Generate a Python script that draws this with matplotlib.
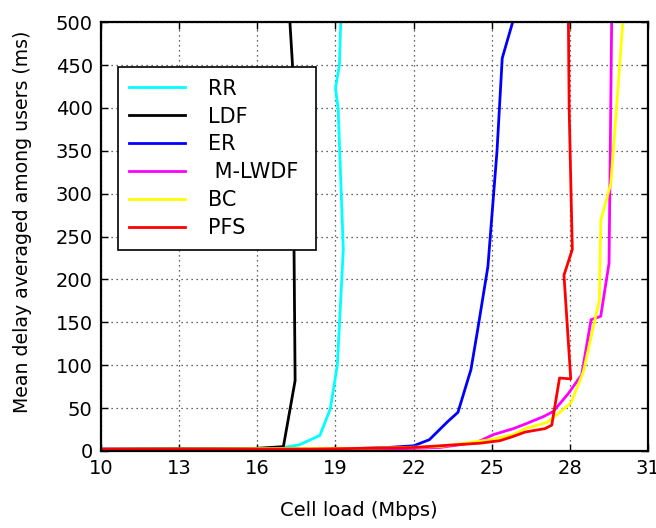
import matplotlib
matplotlib.use("Agg")
import matplotlib.pyplot as plt

plt.rcParams['font.family'] = ['DejaVu Sans']

# Data (Cell load in Mbps, mean delay in ms)
rr_x = [10, 15, 16, 17, 17.6, 18.4, 18.8, 19.07, 19.3, 19.1, 19.0, 19.15, 19.2]
rr_y = [2, 2, 3, 4, 7, 18, 49, 100, 235, 400, 423, 450, 500]

ldf_x = [10, 16, 17.0, 17.45, 17.35, 17.25]
ldf_y = [2, 3, 5, 82, 450, 500]

er_x = [10, 20, 21, 22, 22.6, 23.3, 23.7, 24.2, 24.45, 24.85, 25.2, 25.4, 25.8]
er_y = [2, 3, 4, 6, 13, 34, 45, 95, 140, 215, 350, 458, 500]

mlwdf_x = [10, 18, 21, 23, 24.42, 25.06, 25.83, 26.34, 26.98, 27.36, 27.94, 28.45, 28.81, 29.18, 29.5, 29.6]
mlwdf_y = [2, 1, 2, 4, 10, 19, 26, 32, 40, 46, 67, 89, 153, 157, 219, 500]

bc_x = [10, 20, 23, 24.93, 25.83, 26.28, 27.1, 27.49, 28.04, 28.51, 29.13, 29.16, 29.19, 29.57, 30.03]
bc_y = [2, 3, 5, 13, 19, 26, 33, 42, 56, 92, 176, 234, 270, 312, 500]

pfs_x = [10, 18, 22, 24.55, 25.32, 25.83, 26.28, 27.04, 27.3, 27.6, 28.03, 27.77, 28.09, 27.97, 27.94]
pfs_y = [2, 2, 4, 9, 12, 17, 22, 26, 30, 85, 84, 205, 235, 397, 500]

series = [
    ("RR", rr_x, rr_y, "#00ffff"),
    ("LDF", ldf_x, ldf_y, "#000000"),
    ("ER", er_x, er_y, "#0000ff"),
    (" M-LWDF ", mlwdf_x, mlwdf_y, "#ff00ff"),
    ("BC", bc_x, bc_y, "#ffff00"),
    ("PFS", pfs_x, pfs_y, "#ff0000"),
]

x_ticks = [10, 13, 16, 19, 22, 25, 28, 31]
y_ticks = [0, 50, 100, 150, 200, 250, 300, 350, 400, 450, 500]

fig = plt.figure(figsize=(6.56, 5.28), dpi=100)
ax = fig.add_axes([0.154, 0.146, 0.834, 0.812])

for label, xs, ys, c in series:
    ax.plot(xs, ys, color=c, lw=2, label=label)

ax.set_xlim(10, 31)
ax.set_ylim(0, 500)
ax.set_xticks(x_ticks)
ax.set_yticks(y_ticks)
ax.grid(True, linestyle=(0, (1, 3)), color='#333333', lw=0.9)
ax.tick_params(direction='in', top=True, right=True, length=5, labelsize=14, width=1)
ax.tick_params(axis='x', pad=6)
ax.tick_params(axis='y', pad=6)
for s in ax.spines.values():
    s.set_linewidth(1.6)

ax.set_xlabel("Cell load (Mbps)", fontsize=14)
ax.set_ylabel("Mean delay averaged among users (ms)", fontsize=13.6)
ax.xaxis.set_label_coords(0.472, -0.116)
ax.yaxis.set_label_coords(-0.126, 0.534)

leg = ax.legend(loc='upper left', bbox_to_anchor=(0.031, 0.895), fontsize=15,
                handlelength=2.65, handletextpad=1.1, labelspacing=0.38,
                borderpad=0.55, fancybox=False, framealpha=1, edgecolor='black',
                borderaxespad=0)
leg.get_frame().set_linewidth(1.2)

fig.savefig("out.png", dpi=100)
